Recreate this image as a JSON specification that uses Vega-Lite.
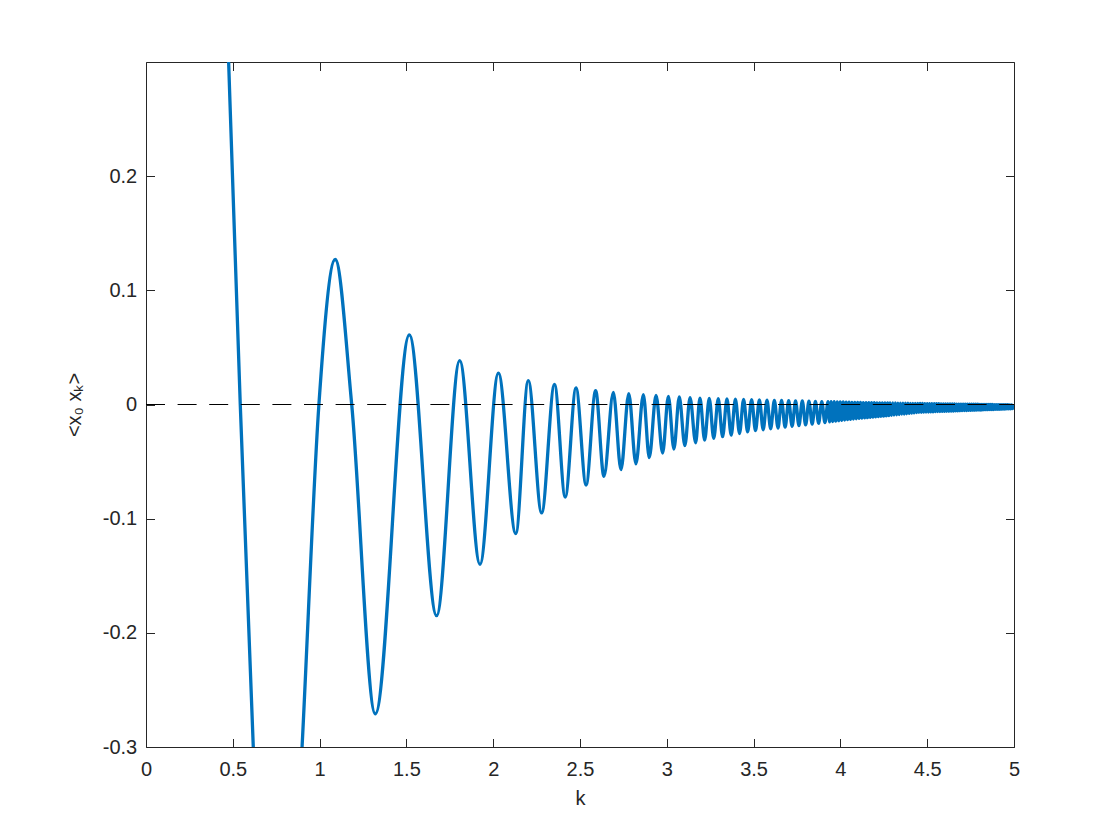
{
  "$schema": "https://vega.github.io/schema/vega-lite/v6.json",
  "width": 868,
  "height": 685,
  "autosize": {"type": "none"},
  "padding": {"left": 146, "top": 62, "right": 106, "bottom": 93},
  "background": "white",
  "config": {
    "view": {"stroke": null},
    "axis": {
      "grid": false,
      "domainColor": "#262626",
      "tickColor": "#262626",
      "labelColor": "#262626",
      "titleColor": "#262626",
      "labelFont": "Liberation Sans",
      "titleFont": "Liberation Sans",
      "labelFontSize": 20,
      "titleFontSize": 20,
      "titleFontWeight": "normal",
      "tickSize": -8.5,
      "domainWidth": 1,
      "tickWidth": 1
    }
  },
  "datasets": {
    "curve": [
      {"k": 0.30, "v": 1.0},
      {"k": 0.42, "v": 0.56},
      {"k": 0.476, "v": 0.30},
      {"k": 0.543, "v": 0.0},
      {"k": 0.618, "v": -0.30},
      {"k": 0.66, "v": -0.45},
      {"k": 0.75, "v": -0.60},
      {"k": 0.84, "v": -0.47},
      {"k": 0.899, "v": -0.30},
      {"k": 0.996, "v": 0.0},
      {"k": 1.09, "v": 0.127},
      {"k": 1.185, "v": 0.0},
      {"k": 1.321, "v": -0.271},
      {"k": 1.517, "v": 0.061},
      {"k": 1.674, "v": -0.185},
      {"k": 1.807, "v": 0.0385},
      {"k": 1.924, "v": -0.140},
      {"k": 2.030, "v": 0.0275},
      {"k": 2.13, "v": -0.113},
      {"k": 2.202, "v": 0.021},
      {"k": 2.279, "v": -0.095},
      {"k": 2.353, "v": 0.0175},
      {"k": 2.415, "v": -0.081},
      {"k": 2.477, "v": 0.0145},
      {"k": 2.535, "v": -0.0705},
      {"k": 2.59, "v": 0.0122},
      {"k": 2.638, "v": -0.063},
      {"k": 2.692, "v": 0.0105},
      {"k": 2.736, "v": -0.057},
      {"k": 2.781, "v": 0.0094},
      {"k": 2.822, "v": -0.052},
      {"k": 2.865, "v": 0.0086},
      {"k": 2.899, "v": -0.0465},
      {"k": 2.938, "v": 0.0079},
      {"k": 2.976, "v": -0.0425},
      {"k": 3.009, "v": 0.0072},
      {"k": 3.041, "v": -0.039},
      {"k": 3.072, "v": 0.0066},
      {"k": 3.104, "v": -0.036},
      {"k": 3.134, "v": 0.0061},
      {"k": 3.166, "v": -0.0335},
      {"k": 3.191, "v": 0.0056},
      {"k": 3.218, "v": -0.0312},
      {"k": 3.2445, "v": 0.0054},
      {"k": 3.2704, "v": -0.0297},
      {"k": 3.2963, "v": 0.0051},
      {"k": 3.3214, "v": -0.0282},
      {"k": 3.3465, "v": 0.0049},
      {"k": 3.3709, "v": -0.0268},
      {"k": 3.3952, "v": 0.0047},
      {"k": 3.4189, "v": -0.0254},
      {"k": 3.4425, "v": 0.0045},
      {"k": 3.4655, "v": -0.0240},
      {"k": 3.4885, "v": 0.0043},
      {"k": 3.5109, "v": -0.0228},
      {"k": 3.5333, "v": 0.0041},
      {"k": 3.5552, "v": -0.0221},
      {"k": 3.5770, "v": 0.0039},
      {"k": 3.5983, "v": -0.0213},
      {"k": 3.6196, "v": 0.0037},
      {"k": 3.6404, "v": -0.0206},
      {"k": 3.6612, "v": 0.0036},
      {"k": 3.6816, "v": -0.0199},
      {"k": 3.7019, "v": 0.0034},
      {"k": 3.7218, "v": -0.0192},
      {"k": 3.7417, "v": 0.0032},
      {"k": 3.7612, "v": -0.0185},
      {"k": 3.7806, "v": 0.0031},
      {"k": 3.7997, "v": -0.0179},
      {"k": 3.8187, "v": 0.0029},
      {"k": 3.8374, "v": -0.0172},
      {"k": 3.8561, "v": 0.0028},
      {"k": 3.8745, "v": -0.0165},
      {"k": 3.8928, "v": 0.0026},
      {"k": 3.9108, "v": -0.0158},
      {"k": 3.9288, "v": 0.0025},
      {"k": 3.9377, "v": -0.0152},
      {"k": 3.9465, "v": 0.0024},
      {"k": 3.9553, "v": -0.0149},
      {"k": 3.9641, "v": 0.0024},
      {"k": 3.9728, "v": -0.0146},
      {"k": 3.9815, "v": 0.0023},
      {"k": 3.9902, "v": -0.0142},
      {"k": 3.9988, "v": 0.0022},
      {"k": 4.0074, "v": -0.0139},
      {"k": 4.0159, "v": 0.0022},
      {"k": 4.0244, "v": -0.0136},
      {"k": 4.0329, "v": 0.0021},
      {"k": 4.0413, "v": -0.0132},
      {"k": 4.0497, "v": 0.0020},
      {"k": 4.0581, "v": -0.0130},
      {"k": 4.0664, "v": 0.0019},
      {"k": 4.0747, "v": -0.0127},
      {"k": 4.0829, "v": 0.0019},
      {"k": 4.0912, "v": -0.0125},
      {"k": 4.0994, "v": 0.0018},
      {"k": 4.1075, "v": -0.0122},
      {"k": 4.1156, "v": 0.0018},
      {"k": 4.1237, "v": -0.0119},
      {"k": 4.1318, "v": 0.0017},
      {"k": 4.1398, "v": -0.0117},
      {"k": 4.1478, "v": 0.0017},
      {"k": 4.1558, "v": -0.0115},
      {"k": 4.1637, "v": 0.0016},
      {"k": 4.1716, "v": -0.0112},
      {"k": 4.1794, "v": 0.0016},
      {"k": 4.1873, "v": -0.0110},
      {"k": 4.1951, "v": 0.0016},
      {"k": 4.2029, "v": -0.0108},
      {"k": 4.2106, "v": 0.0015},
      {"k": 4.2184, "v": -0.0106},
      {"k": 4.2261, "v": 0.0015},
      {"k": 4.2338, "v": -0.0103},
      {"k": 4.2414, "v": 0.0014},
      {"k": 4.2490, "v": -0.0101},
      {"k": 4.2566, "v": 0.0014},
      {"k": 4.2642, "v": -0.0099},
      {"k": 4.2717, "v": 0.0014},
      {"k": 4.2792, "v": -0.0097},
      {"k": 4.2867, "v": 0.0013},
      {"k": 4.2942, "v": -0.0094},
      {"k": 4.3016, "v": 0.0013},
      {"k": 4.3090, "v": -0.0092},
      {"k": 4.3164, "v": 0.0013},
      {"k": 4.3238, "v": -0.0090},
      {"k": 4.3311, "v": 0.0012},
      {"k": 4.3384, "v": -0.0088},
      {"k": 4.3457, "v": 0.0012},
      {"k": 4.3530, "v": -0.0085},
      {"k": 4.3602, "v": 0.0012},
      {"k": 4.3674, "v": -0.0083},
      {"k": 4.3746, "v": 0.0011},
      {"k": 4.3818, "v": -0.0081},
      {"k": 4.3889, "v": 0.0011},
      {"k": 4.3960, "v": -0.0078},
      {"k": 4.4031, "v": 0.0010},
      {"k": 4.4102, "v": -0.0076},
      {"k": 4.4172, "v": 0.0010},
      {"k": 4.4242, "v": -0.0074},
      {"k": 4.4312, "v": 0.0010},
      {"k": 4.4382, "v": -0.0071},
      {"k": 4.4451, "v": 0.0009},
      {"k": 4.4521, "v": -0.0069},
      {"k": 4.4590, "v": 0.0009},
      {"k": 4.4659, "v": -0.0068},
      {"k": 4.4727, "v": 0.0009},
      {"k": 4.4796, "v": -0.0067},
      {"k": 4.4864, "v": 0.0008},
      {"k": 4.4932, "v": -0.0066},
      {"k": 4.5000, "v": 0.0008},
      {"k": 4.5068, "v": -0.0066},
      {"k": 4.5135, "v": 0.0008},
      {"k": 4.5202, "v": -0.0065},
      {"k": 4.5269, "v": 0.0007},
      {"k": 4.5336, "v": -0.0064},
      {"k": 4.5403, "v": 0.0007},
      {"k": 4.5469, "v": -0.0063},
      {"k": 4.5535, "v": 0.0007},
      {"k": 4.5601, "v": -0.0062},
      {"k": 4.5667, "v": 0.0007},
      {"k": 4.5733, "v": -0.0062},
      {"k": 4.5798, "v": 0.0006},
      {"k": 4.5863, "v": -0.0061},
      {"k": 4.5928, "v": 0.0006},
      {"k": 4.5993, "v": -0.0060},
      {"k": 4.6057, "v": 0.0006},
      {"k": 4.6122, "v": -0.0059},
      {"k": 4.6186, "v": 0.0005},
      {"k": 4.6250, "v": -0.0059},
      {"k": 4.6314, "v": 0.0005},
      {"k": 4.6378, "v": -0.0058},
      {"k": 4.6441, "v": 0.0005},
      {"k": 4.6505, "v": -0.0057},
      {"k": 4.6568, "v": 0.0005},
      {"k": 4.6631, "v": -0.0056},
      {"k": 4.6694, "v": 0.0004},
      {"k": 4.6757, "v": -0.0056},
      {"k": 4.6819, "v": 0.0004},
      {"k": 4.6882, "v": -0.0055},
      {"k": 4.6944, "v": 0.0004},
      {"k": 4.7006, "v": -0.0054},
      {"k": 4.7068, "v": 0.0003},
      {"k": 4.7130, "v": -0.0053},
      {"k": 4.7191, "v": 0.0003},
      {"k": 4.7253, "v": -0.0053},
      {"k": 4.7314, "v": 0.0003},
      {"k": 4.7375, "v": -0.0052},
      {"k": 4.7436, "v": 0.0003},
      {"k": 4.7497, "v": -0.0051},
      {"k": 4.7557, "v": 0.0002},
      {"k": 4.7618, "v": -0.0050},
      {"k": 4.7678, "v": 0.0002},
      {"k": 4.7738, "v": -0.0050},
      {"k": 4.7798, "v": 0.0002},
      {"k": 4.7858, "v": -0.0049},
      {"k": 4.7918, "v": 0.0002},
      {"k": 4.7978, "v": -0.0048},
      {"k": 4.8037, "v": 0.0001},
      {"k": 4.8096, "v": -0.0048},
      {"k": 4.8155, "v": 0.0001},
      {"k": 4.8214, "v": -0.0047},
      {"k": 4.8273, "v": 0.0001},
      {"k": 4.8332, "v": -0.0046},
      {"k": 4.8390, "v": 0.0000},
      {"k": 4.8449, "v": -0.0046},
      {"k": 4.8507, "v": 0.0000},
      {"k": 4.8565, "v": -0.0045},
      {"k": 4.8623, "v": 0.0000},
      {"k": 4.8681, "v": -0.0044},
      {"k": 4.8739, "v": 0.0000},
      {"k": 4.8797, "v": -0.0044},
      {"k": 4.8854, "v": -0.0001},
      {"k": 4.8911, "v": -0.0043},
      {"k": 4.8968, "v": -0.0001},
      {"k": 4.9025, "v": -0.0042},
      {"k": 4.9082, "v": -0.0001},
      {"k": 4.9139, "v": -0.0042},
      {"k": 4.9195, "v": -0.0001},
      {"k": 4.9252, "v": -0.0041},
      {"k": 4.9308, "v": -0.0002},
      {"k": 4.9364, "v": -0.0040},
      {"k": 4.9420, "v": -0.0002},
      {"k": 4.9476, "v": -0.0040},
      {"k": 4.9532, "v": -0.0002},
      {"k": 4.9588, "v": -0.0039},
      {"k": 4.9643, "v": -0.0002},
      {"k": 4.9699, "v": -0.0038},
      {"k": 4.9754, "v": -0.0003},
      {"k": 4.9809, "v": -0.0038},
      {"k": 4.9864, "v": -0.0003},
      {"k": 4.9919, "v": -0.0037},
      {"k": 4.9974, "v": -0.0003}
    ],
    "zero": [
      {"k": 0, "v": 0},
      {"k": 5, "v": 0}
    ]
  },
  "layer": [
    {
      "data": {"name": "curve"},
      "mark": {"type": "line", "color": "#0072BD", "strokeWidth": 3.3, "interpolate": "monotone", "clip": true, "strokeJoin": "round"},
      "encoding": {
        "x": {
          "field": "k", "type": "quantitative",
          "scale": {"domain": [0, 5], "nice": false, "zero": false},
          "axis": {
            "orient": "bottom",
            "values": [0, 0.5, 1, 1.5, 2, 2.5, 3, 3.5, 4, 4.5, 5],
            "labelExpr": "'' + datum.value",
            "labelFlush": false,
            "labelOverlap": false,
            "labelPadding": 37.2,
            "labelBaseline": "alphabetic",
            "title": "k",
            "titleX": 434,
            "titleY": 57,
            "titleBaseline": "alphabetic",
            "titleAlign": "center"
          }
        },
        "y": {
          "field": "v", "type": "quantitative",
          "scale": {"domain": [-0.3, 0.3], "nice": false, "zero": false},
          "axis": {
            "orient": "left",
            "values": [-0.3, -0.2, -0.1, 0, 0.1, 0.2],
            "labelExpr": "'' + datum.value",
            "labelFlush": false,
            "labelOverlap": false,
            "labelPadding": 17.8,
            "labelBaseline": "middle",
            "title": "<x₀ xₖ>",
            "titleX": -66,
            "titleY": 342.5,
            "titleAngle": 270,
            "titleBaseline": "alphabetic",
            "titleAlign": "center"
          }
        }
      }
    },
    {
      "data": {"name": "zero"},
      "mark": {"type": "line", "color": "black", "strokeWidth": 1, "strokeDash": [19, 12.6]},
      "encoding": {
        "x": {
          "field": "k", "type": "quantitative",
          "axis": {"orient": "top", "values": [0, 0.5, 1, 1.5, 2, 2.5, 3, 3.5, 4, 4.5, 5], "labels": false, "title": null}
        },
        "y": {
          "field": "v", "type": "quantitative",
          "axis": {"orient": "right", "values": [-0.3, -0.2, -0.1, 0, 0.1, 0.2], "labels": false, "title": null}
        }
      }
    }
  ],
  "resolve": {"axis": {"x": "independent", "y": "independent"}}
}
